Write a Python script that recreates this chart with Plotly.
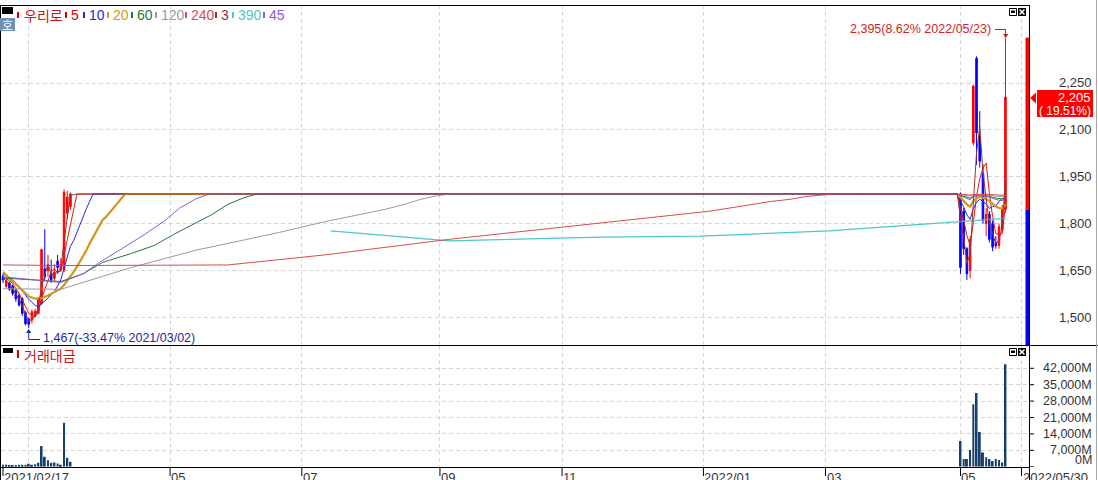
import plotly.graph_objects as go

W, H = 1098, 480

# ---------------- data (trading-day index on x) ----------------
START_IDX = list(range(0, 22))
START_OPEN = [1632, 1600, 1610, 1600, 1585, 1570, 1560, 1516, 1495, 1492, 1505, 1513, 1545, 1655, 1650, 1640, 1625, 1680, 1652, 1652, 1833, 1855]
START_HIGH = [1640, 1625, 1615, 1605, 1592, 1578, 1565, 1520, 1500, 1525, 1528, 1565, 1720, 1782, 1700, 1685, 1670, 1700, 1690, 1910, 1905, 1900]
START_LOW = [1610, 1595, 1585, 1570, 1550, 1535, 1505, 1475, 1467, 1480, 1500, 1510, 1540, 1620, 1630, 1610, 1615, 1640, 1645, 1645, 1815, 1845]
START_CLOSE = [1620, 1618, 1590, 1577, 1560, 1540, 1513, 1480, 1478, 1518, 1520, 1560, 1717, 1630, 1662, 1620, 1645, 1660, 1670, 1900, 1885, 1895]
START_VOL = [800, 800, 700, 700, 700, 800, 800, 800, 1300, 800, 1000, 1700, 8800, 4300, 2800, 1700, 1800, 1400, 850, 18800, 3800, 2100]

HALT_CLOSE = 1895
HALT_END_IDX = 297

END_IDX = list(range(298, 313))
END_OPEN = [1895, 1840, 1720, 1650, 2058, 2329, 2080, 1960, 1800, 1830, 1800, 1740, 1730, 1780, 1845]
END_HIGH = [1900, 1850, 1725, 1760, 2245, 2335, 2160, 1990, 1850, 1840, 1810, 1760, 1800, 1860, 2395]
END_LOW = [1640, 1700, 1620, 1625, 2050, 1988, 1980, 1800, 1760, 1740, 1712, 1720, 1720, 1770, 1835]
END_CLOSE = [1660, 1720, 1640, 1748, 2240, 2090, 2000, 1810, 1830, 1750, 1725, 1730, 1790, 1845, 2205]
END_VOL = [11000, 3300, 3300, 7100, 26700, 31500, 14800, 6100, 4000, 3300, 2400, 3300, 2900, 1800, 43700]

MA3_KNOTS = [(0, 1625), (1, 1617), (2, 1609), (3, 1595), (4, 1576), (5, 1559), (6, 1538), (7, 1511), (8, 1490), (9, 1492),
             (10, 1505), (11, 1533), (12, 1599), (13, 1636), (14, 1670), (15, 1637), (16, 1642), (17, 1642), (18, 1658),
             (19, 1743), (20, 1818), (21, 1893), (22, 1892), (23, 1895)]
MA5_KNOTS = [(0, 1630), (1, 1625), (2, 1618), (3, 1608), (4, 1593), (5, 1577), (6, 1556), (7, 1534), (8, 1514), (9, 1506),
             (10, 1502), (11, 1515), (12, 1559), (13, 1589), (14, 1618), (15, 1646), (16, 1655), (17, 1643), (18, 1651),
             (19, 1699), (20, 1752), (21, 1802), (22, 1849), (23, 1894), (25, 1895)]
MA10_KNOTS = [(0, 1640), (1, 1635), (2, 1628), (3, 1620), (4, 1610), (5, 1598), (6, 1585), (7, 1570), (8, 1558), (9, 1549),
              (10, 1539), (11, 1534), (12, 1546), (13, 1552), (14, 1562), (15, 1570), (16, 1583), (17, 1601), (18, 1620),
              (19, 1658), (20, 1695), (21, 1728), (22, 1746), (23, 1773), (24, 1796), (25, 1824), (26, 1849), (27, 1872),
              (28, 1894), (30, 1895)]
MA20_KNOTS = [(0, 1645), (2, 1625), (4, 1605), (6, 1585), (8, 1568), (10, 1560), (12, 1562), (14, 1570), (16, 1580),
              (18, 1592), (19, 1604), (20, 1617), (21, 1631), (22, 1646), (23, 1662), (24, 1679), (25, 1697), (26, 1716),
              (27, 1737), (28, 1757), (29, 1776), (30, 1795), (31, 1812), (32, 1821), (33, 1834), (34, 1846), (35, 1859),
              (36, 1872), (37, 1884), (38, 1895)]
MA45_KNOTS = [(0, 1630), (10, 1620), (18, 1612), (25, 1640), (30, 1676), (37, 1720), (44, 1765), (50, 1807), (55, 1850),
              (60, 1879), (64, 1895)]
MA60_KNOTS = [(0, 1626), (10, 1620), (18, 1615), (25, 1640), (31, 1676), (40, 1705), (47, 1730), (53, 1765), (59, 1798),
              (65, 1829), (70, 1862), (75, 1883), (79, 1895)]
MA120_KNOTS = [(0, 1592), (18, 1590), (40, 1660), (60, 1715), (86, 1772), (100, 1806), (119, 1846), (125, 1862),
               (130, 1878), (135, 1889), (139, 1895)]
MA240_KNOTS = [(0, 1668), (20, 1666), (70, 1668), (100, 1700), (139, 1750), (180, 1795), (220, 1840), (239, 1871),
               (245, 1878), (250, 1887), (255, 1892), (259, 1895)]
MA390_KNOTS = [(102, 1777), (139, 1745), (186, 1757), (217, 1760), (257, 1777), (298, 1808), (305, 1813), (312, 1817)]

Y_TICKS = [1500, 1650, 1800, 1950, 2100, 2250]
VOL_TICKS = [7000, 14000, 21000, 28000, 35000, 42000]
GRID_X = [8, 52, 93, 136, 174, 218, 256, 298, 317]
LABEL_X = [0, 52, 93, 136, 174, 218, 256, 298, 317]
LABEL_TEXT = ["2021/02/17", "05", "07", "09", "11", "2022/01", "03", "05", "2022/05/30"]

LEGEND = [("5", "#d40000"), ("10", "#2626e0"), ("20", "#d4961e"), ("60", "#1e7b36"), ("120", "#9a9a9a"),
          ("240", "#d84c4c"), ("3", "#993333"), ("390", "#4cc8c8"), ("45", "#8c5ad8")]

CUR_PRICE = 2205
PREV_CLOSE = 1845
HIGH_PRICE = 2395
LOW_PRICE = 1467

# ---------------- geometry ----------------
X_RANGE = [-0.622, 319.33]
Y_RANGE = [1411.9, 2499.5]
VOL_RANGE = [0, 51518]
NUM_FONT = "Liberation Sans, Arial, sans-serif"
KR_FONT = "Noto Sans CJK KR, sans-serif"
NUM_SIZE = 13


def px(xp):
    return xp / W


def py(yp):
    return 1 - yp / H


def ma_line(knots, n):
    xs = [k[0] for k in knots]
    ys = [k[1] for k in knots]
    if n is None:
        return xs, ys
    xs.append(HALT_END_IDX)
    ys.append(HALT_CLOSE)
    series = [HALT_CLOSE] * n + END_CLOSE
    for k in range(len(END_CLOSE)):
        window = series[k + 1:k + 1 + n]
        xs.append(END_IDX[k])
        ys.append(sum(window) / n)
    return xs, ys


fig = go.Figure()

# candles
for idx, o, h, l, c in [(START_IDX, START_OPEN, START_HIGH, START_LOW, START_CLOSE),
                        (END_IDX, END_OPEN, END_HIGH, END_LOW, END_CLOSE)]:
    fig.add_trace(go.Candlestick(
        x=idx, open=o, high=h, low=l, close=c,
        increasing=dict(line=dict(color="#ff0000", width=1), fillcolor="#ff0000"),
        decreasing=dict(line=dict(color="#0000ff", width=1), fillcolor="#0000ff"),
        whiskerwidth=0, showlegend=False, hoverinfo="skip", xaxis="x", yaxis="y"))

# moving averages
ma_specs = [
    (MA5_KNOTS, 5, "#e01818", 1),
    (MA10_KNOTS, 10, "#2626e0", 1),
    (MA20_KNOTS, 20, "#d4961e", 2.2),
    (MA60_KNOTS, 60, "#1e7b36", 1),
    (MA120_KNOTS, 120, "#9a9a9a", 1),
    (MA390_KNOTS, None, "#4cc8c8", 1.3),
    (MA45_KNOTS, 45, "#8c5ad8", 1),
    (MA240_KNOTS, 240, "#d84c4c", 1),
    (MA3_KNOTS, 3, "#993333", 1),
]
for knots, n, col, wd in ma_specs:
    xs, ys = ma_line(knots, n)
    fig.add_trace(go.Scatter(x=xs, y=ys, mode="lines", line=dict(color=col, width=wd),
                             showlegend=False, hoverinfo="skip", xaxis="x", yaxis="y"))

# volume
fig.add_trace(go.Bar(x=START_IDX + END_IDX, y=START_VOL + END_VOL, width=0.62,
                     marker=dict(color="#17406d", line=dict(width=0)),
                     showlegend=False, hoverinfo="skip", xaxis="x2", yaxis="y2"))

grid = dict(showgrid=True, gridcolor="#d6d6d6", griddash="4px,3px", gridwidth=1)
fig.update_layout(
    width=W, height=H, margin=dict(l=0, r=0, t=0, b=0),
    paper_bgcolor="white", plot_bgcolor="white", showlegend=False,
    xaxis=dict(domain=[px(1), px(1029)], range=X_RANGE, anchor="y", tickvals=GRID_X, showticklabels=False,
               zeroline=False, showline=False, ticks="", rangeslider=dict(visible=False), **grid),
    xaxis2=dict(domain=[px(1), px(1029)], range=X_RANGE, anchor="y2", tickvals=GRID_X, showticklabels=False,
                zeroline=False, showline=False, ticks="", **grid),
    yaxis=dict(domain=[py(345), py(5)], range=Y_RANGE, anchor="x", tickvals=Y_TICKS, showticklabels=False,
               zeroline=False, showline=False, ticks="", **grid),
    yaxis2=dict(domain=[py(466.7), py(346)], range=VOL_RANGE, anchor="x2", tickvals=VOL_TICKS, showticklabels=False,
                zeroline=False, showline=False, ticks="", **grid),
)

shapes = []
ann = []


def pline(x0, y0, x1, y1, color="#000000", width=1):
    shapes.append(dict(type="line", xref="paper", yref="paper", x0=px(x0), y0=py(y0), x1=px(x1), y1=py(y1),
                       line=dict(color=color, width=width)))


def prect(x0, y0, x1, y1, fill, line_color=None):
    shapes.append(dict(type="rect", xref="paper", yref="paper", x0=px(x0), y0=py(y0), x1=px(x1), y1=py(y1),
                       fillcolor=fill, line=dict(color=line_color or fill, width=1 if line_color else 0)))


# frame lines
pline(0.5, 5, 0.5, 480)
pline(0, 5.5, 1029.5, 5.5)
pline(1029.5, 5, 1029.5, 480)
pline(0, 345.5, 1098, 345.5)
pline(0, 467.5, 1029.5, 467.5)
pline(1096.5, 0, 1096.5, 480, color="#a8a8a8")

# right price-range bar (red above previous close, blue below)
shapes.append(dict(type="rect", xref="paper", yref="y", x0=px(1025.5), x1=px(1029), y0=PREV_CLOSE, y1=HIGH_PRICE,
                   fillcolor="#ff0000", line=dict(width=0)))
shapes.append(dict(type="rect", xref="paper", yref="y", x0=px(1025.5), x1=px(1029), y0=Y_RANGE[0], y1=PREV_CLOSE,
                   fillcolor="#0000ff", line=dict(width=0)))

# x tick marks
for i in LABEL_X:
    shapes.append(dict(type="line", xref="x2", yref="paper", x0=i, x1=i, y0=py(467.5), y1=py(476),
                       line=dict(color="#000000", width=1)))
# volume tick marks
for v in [0] + VOL_TICKS:
    shapes.append(dict(type="line", xref="paper", yref="y2", x0=px(1029.5), x1=px(1034), y0=v, y1=v,
                       line=dict(color="#000000", width=1)))

# panel icons
for top in (8, 348):
    prect(1009.5, top + 0.5, 1016.5, top + 7.5, "#ffffff", "#000000")
    prect(1011, top + 2.5, 1015, top + 5, "#000000")
    prect(1018, top, 1026, top + 8, "#000000")
    pline(1019.5, top + 1.5, 1024.5, top + 6.5, color="#ffffff", width=1.5)
    pline(1019.5, top + 6.5, 1024.5, top + 1.5, color="#ffffff", width=1.5)

# legend blocks
prect(2, 7, 13, 14, "#000000")
prect(3, 348, 13, 353, "#000000")
prect(0, 18, 15, 31, "#6f8fb3")
ann.append(dict(xref="paper", yref="paper", x=px(7.5), y=py(24.5), text="호", showarrow=False,
                font=dict(family=KR_FONT, size=12, color="#ffffff"), xanchor="center", yanchor="middle"))
prect(17, 12, 19, 18, "#d40000")
ann.append(dict(xref="paper", yref="paper", x=px(22), y=py(15), text="우리로", showarrow=False,
                font=dict(family=KR_FONT, size=14, color="#c81414"), xanchor="left", yanchor="middle"))
leg_x = [65, 83, 107, 131, 155, 185, 215, 232, 263]
for (lab, col), lx in zip(LEGEND, leg_x):
    prect(lx, 12, lx + 2, 18, col)
    ann.append(dict(xref="paper", yref="paper", x=px(lx + 4), y=py(15), text=lab, showarrow=False,
                    font=dict(family=NUM_FONT, size=14, color=col), xanchor="left", yanchor="middle"))
prect(17, 350, 19, 358, "#d40000")
ann.append(dict(xref="paper", yref="paper", x=px(22), y=py(355), text="거래대금", showarrow=False,
                font=dict(family=KR_FONT, size=14, color="#c81414"), xanchor="left", yanchor="middle"))

# y labels (price)
for v in Y_TICKS:
    ann.append(dict(xref="paper", yref="y", x=px(1094), y=v, text=f"{v:,}", showarrow=False,
                    font=dict(family=NUM_FONT, size=NUM_SIZE, color="#333333"), xanchor="right", yanchor="middle"))
# y labels (volume)
for v in VOL_TICKS:
    ann.append(dict(xref="paper", yref="y2", x=px(1094), y=v, text=f"{v:,}M", showarrow=False,
                    font=dict(family=NUM_FONT, size=12.5, color="#333333"), xanchor="right", yanchor="middle"))
ann.append(dict(xref="paper", yref="y2", x=px(1094), y=0, text="0M", showarrow=False, yshift=-2,
                font=dict(family=NUM_FONT, size=12.5, color="#333333"), xanchor="right", yanchor="bottom"))

# x labels
for i, t in zip(LABEL_X, LABEL_TEXT):
    ann.append(dict(xref="x2", yref="paper", x=i, y=py(467.5), text=t, showarrow=False, xshift=-1,
                    font=dict(family=NUM_FONT, size=NUM_SIZE, color="#333333"), xanchor="left", yanchor="top"))

# current price box
prect(1037, 90, 1093, 117, "#ff0000")
shapes.append(dict(type="path", xref="paper", yref="paper",
                   path=f"M {px(1030)} {py(98)} L {px(1036)} {py(92.5)} L {px(1036)} {py(103.5)} Z",
                   fillcolor="#ff0000", line=dict(width=0)))
ann.append(dict(xref="paper", yref="paper", x=px(1093), y=py(97), text=f"{CUR_PRICE:,}", showarrow=False,
                font=dict(family=NUM_FONT, size=NUM_SIZE, color="#ffffff"), xanchor="right", yanchor="middle"))
ann.append(dict(xref="paper", yref="paper", x=px(1093), y=py(110.5), text="( 19.51%)", showarrow=False,
                font=dict(family=NUM_FONT, size=12, color="#ffffff"), xanchor="right", yanchor="middle"))

# high marker
hi_i = END_IDX[-1]
ann.append(dict(xref="paper", yref="paper", x=px(993), y=py(29), text="2,395(8.62% 2022/05/23)", showarrow=False,
                font=dict(family=NUM_FONT, size=12.5, color="#d21e1e"), xanchor="right", yanchor="middle"))
shapes.append(dict(type="line", xref="paper", yref="paper", x0=px(995), x1=px(1005.6), y0=py(29.5), y1=py(29.5),
                   line=dict(color="#d21e1e", width=1)))
shapes.append(dict(type="line", xref="x", yref="paper", x0=hi_i, x1=hi_i, y0=py(29.5), y1=py(37),
                   line=dict(color="#d21e1e", width=1)))
shapes.append(dict(type="path", xref="paper", yref="paper",
                   path=f"M {px(1003)} {py(34)} L {px(1008.5)} {py(34)} L {px(1005.7)} {py(38)} Z",
                   fillcolor="#d21e1e", line=dict(width=0)))

# low marker
lo_i = 8
shapes.append(dict(type="line", xref="x", yref="paper", x0=lo_i, x1=lo_i, y0=py(330), y1=py(339.5),
                   line=dict(color="#1e2aa0", width=1)))
shapes.append(dict(type="line", xref="paper", yref="paper", x0=px(28.7), x1=px(40), y0=py(339.5), y1=py(339.5),
                   line=dict(color="#1e2aa0", width=1)))
shapes.append(dict(type="path", xref="paper", yref="paper",
                   path=f"M {px(26)} {py(333)} L {px(31.4)} {py(333)} L {px(28.7)} {py(329)} Z",
                   fillcolor="#1e2aa0", line=dict(width=0)))
ann.append(dict(xref="paper", yref="paper", x=px(41), y=py(338), text="1,467(-33.47% 2021/03/02)", showarrow=False,
                font=dict(family=NUM_FONT, size=12.5, color="#1e2aa0"), xanchor="left", yanchor="middle"))

fig.update_layout(shapes=shapes, annotations=ann)
fig.write_html("out.html", config={"displayModeBar": False},
               post_script="document.body.style.margin='0';document.body.style.overflow='hidden';")
